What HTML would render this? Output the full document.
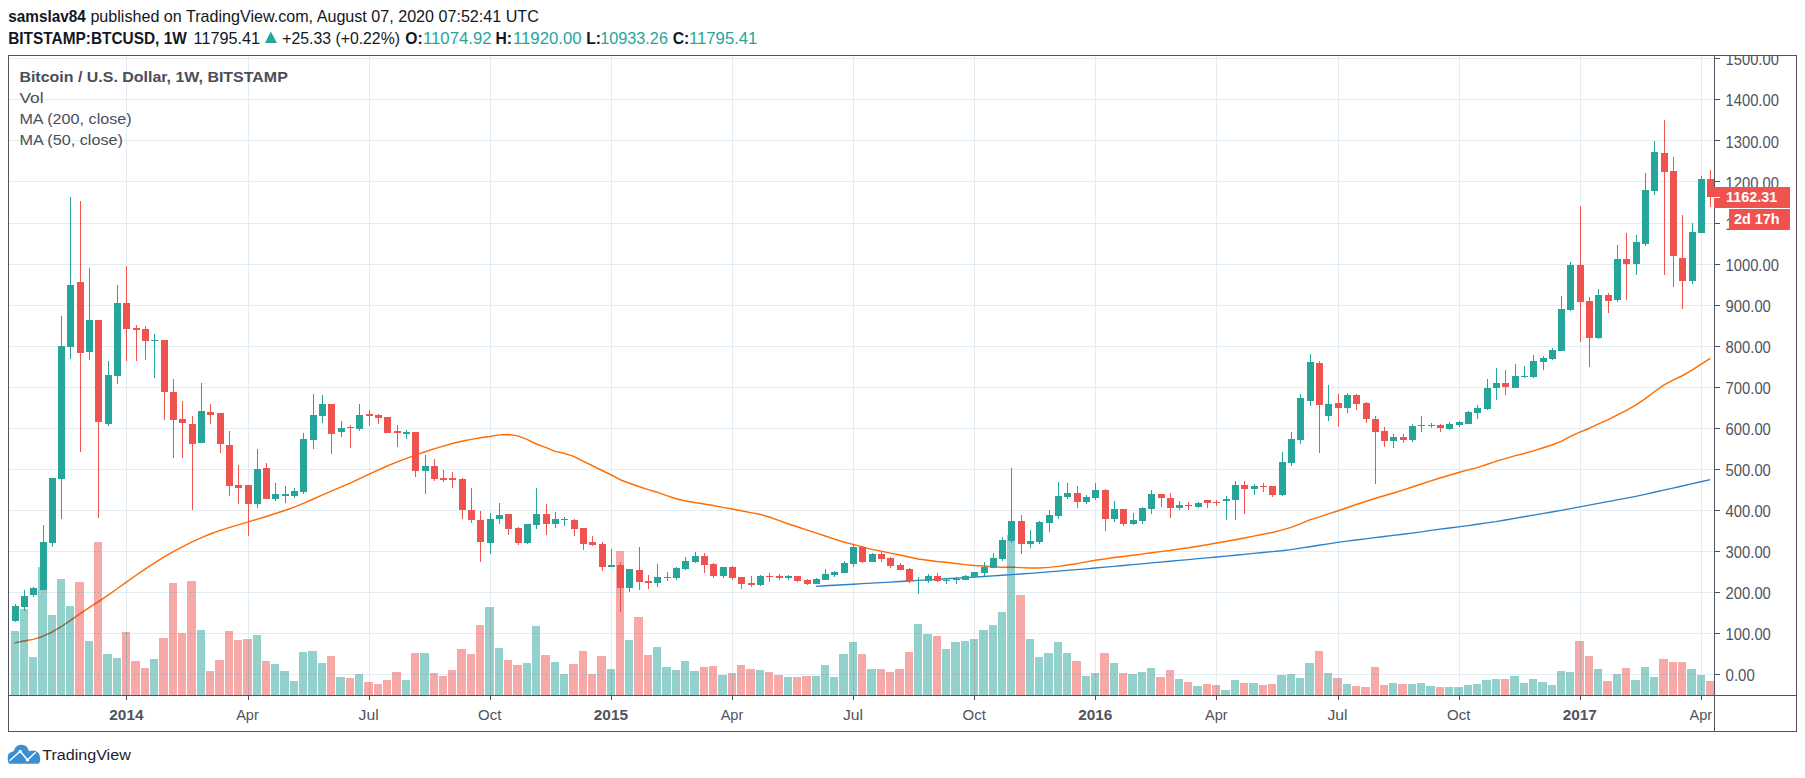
<!DOCTYPE html>
<html><head><meta charset="utf-8"><title>BTCUSD</title>
<style>
html,body{margin:0;padding:0;background:#fff;}
body{width:1805px;height:778px;overflow:hidden;position:relative;font-family:"Liberation Sans",sans-serif;}
svg{position:absolute;left:0;top:0;}
svg text{font-family:"Liberation Sans",sans-serif;}
</style></head><body>
<svg width="1805" height="778" viewBox="0 0 1805 778">

<path d="M9 674.5H1714M9 633.5H1714M9 592.5H1714M9 551.5H1714M9 510.5H1714M9 469.5H1714M9 428.5H1714M9 387.5H1714M9 346.5H1714M9 305.5H1714M9 264.5H1714M9 223.5H1714M9 181.5H1714M9 140.5H1714M9 99.5H1714M9 58.5H1714M126.5 56V695M248.5 56V695M369.5 56V695M490.5 56V695M611.5 56V695M732.5 56V695M853.5 56V695M974.5 56V695M1095.5 56V695M1216.5 56V695M1338.5 56V695M1459.5 56V695M1580.5 56V695M1701.5 56V695" stroke="#e2ecf2" stroke-width="1" fill="none" shape-rendering="crispEdges"/>
<path d="M11 631H19V695H11ZM20 609H28V695H20ZM29 657H37V695H29ZM38 567H47V695H38ZM48 615H56V695H48ZM57 579H65V695H57ZM66 606H74V695H66ZM85 641H93V695H85ZM103 654H112V695H103ZM113 658H121V695H113ZM150 659H158V695H150ZM197 630H205V695H197ZM253 635H261V695H253ZM271 664H279V695H271ZM280 671H289V695H280ZM290 681H298V695H290ZM299 652H307V695H299ZM308 651H317V695H308ZM318 663H326V695H318ZM336 677H345V695H336ZM355 674H363V695H355ZM402 680H410V695H402ZM420 653H429V695H420ZM485 607H494V695H485ZM495 648H503V695H495ZM523 663H531V695H523ZM532 626H540V695H532ZM551 662H559V695H551ZM560 674H568V695H560ZM607 669H615V695H607ZM625 640H633V695H625ZM653 647H661V695H653ZM662 667H671V695H662ZM672 670H680V695H672ZM681 661H689V695H681ZM690 671H699V695H690ZM718 675H727V695H718ZM756 670H764V695H756ZM784 677H792V695H784ZM812 676H820V695H812ZM821 665H829V695H821ZM830 677H838V695H830ZM839 654H848V695H839ZM849 642H857V695H849ZM867 669H876V695H867ZM914 624H922V695H914ZM923 634H932V695H923ZM942 649H950V695H942ZM951 642H960V695H951ZM961 641H969V695H961ZM970 639H978V695H970ZM979 630H988V695H979ZM989 625H997V695H989ZM998 612H1006V695H998ZM1007 535H1015V695H1007ZM1026 639H1034V695H1026ZM1035 657H1043V695H1035ZM1044 653H1053V695H1044ZM1054 642H1062V695H1054ZM1063 653H1071V695H1063ZM1082 676H1090V695H1082ZM1091 673H1099V695H1091ZM1110 663H1118V695H1110ZM1128 674H1137V695H1128ZM1138 672H1146V695H1138ZM1147 668H1155V695H1147ZM1175 679H1183V695H1175ZM1193 686H1202V695H1193ZM1221 690H1230V695H1221ZM1231 680H1239V695H1231ZM1249 683H1258V695H1249ZM1277 675H1286V695H1277ZM1287 674H1295V695H1287ZM1296 678H1304V695H1296ZM1305 663H1314V695H1305ZM1324 673H1332V695H1324ZM1343 684H1351V695H1343ZM1389 683H1397V695H1389ZM1408 684H1416V695H1408ZM1417 683H1425V695H1417ZM1426 686H1435V695H1426ZM1445 687H1453V695H1445ZM1454 687H1463V695H1454ZM1464 685H1472V695H1464ZM1473 684H1481V695H1473ZM1482 680H1491V695H1482ZM1492 679H1500V695H1492ZM1510 676H1519V695H1510ZM1520 683H1528V695H1520ZM1529 679H1537V695H1529ZM1538 682H1547V695H1538ZM1548 685H1556V695H1548ZM1557 671H1565V695H1557ZM1566 672H1574V695H1566ZM1594 669H1602V695H1594ZM1613 674H1621V695H1613ZM1631 680H1640V695H1631ZM1641 667H1649V695H1641ZM1650 677H1658V695H1650ZM1687 669H1696V695H1687ZM1697 675H1705V695H1697Z" fill="#93d2cc" shape-rendering="crispEdges"/>
<path d="M75 582H84V695H75ZM94 542H102V695H94ZM122 632H130V695H122ZM131 661H140V695H131ZM141 668H149V695H141ZM159 638H168V695H159ZM169 583H177V695H169ZM178 633H186V695H178ZM187 581H196V695H187ZM206 671H214V695H206ZM215 660H224V695H215ZM225 631H233V695H225ZM234 640H242V695H234ZM243 639H252V695H243ZM262 661H270V695H262ZM327 656H335V695H327ZM346 678H354V695H346ZM364 682H373V695H364ZM374 684H382V695H374ZM383 680H391V695H383ZM392 672H401V695H392ZM411 653H419V695H411ZM430 673H438V695H430ZM439 676H447V695H439ZM448 670H456V695H448ZM457 649H466V695H457ZM467 654H475V695H467ZM476 625H484V695H476ZM504 660H512V695H504ZM513 665H522V695H513ZM541 655H550V695H541ZM569 664H578V695H569ZM579 651H587V695H579ZM588 674H596V695H588ZM597 656H606V695H597ZM616 551H624V695H616ZM634 617H643V695H634ZM644 655H652V695H644ZM700 667H708V695H700ZM709 666H717V695H709ZM728 673H736V695H728ZM737 665H745V695H737ZM746 669H755V695H746ZM765 672H773V695H765ZM774 675H783V695H774ZM793 677H801V695H793ZM802 676H811V695H802ZM858 654H866V695H858ZM877 669H885V695H877ZM886 672H894V695H886ZM895 669H904V695H895ZM905 652H913V695H905ZM933 636H941V695H933ZM1016 595H1025V695H1016ZM1072 661H1081V695H1072ZM1100 653H1109V695H1100ZM1119 673H1127V695H1119ZM1156 677H1165V695H1156ZM1166 670H1174V695H1166ZM1184 682H1192V695H1184ZM1203 684H1211V695H1203ZM1212 685H1220V695H1212ZM1240 683H1248V695H1240ZM1259 685H1267V695H1259ZM1268 684H1276V695H1268ZM1315 651H1323V695H1315ZM1333 678H1342V695H1333ZM1352 686H1360V695H1352ZM1361 687H1370V695H1361ZM1371 667H1379V695H1371ZM1380 685H1388V695H1380ZM1398 684H1407V695H1398ZM1436 687H1444V695H1436ZM1501 679H1509V695H1501ZM1575 641H1584V695H1575ZM1585 656H1593V695H1585ZM1603 681H1612V695H1603ZM1622 668H1630V695H1622ZM1659 659H1668V695H1659ZM1669 662H1677V695H1669ZM1678 662H1686V695H1678ZM1706 681H1714V695H1706Z" fill="#f7a9a8" shape-rendering="crispEdges"/>
<defs><clipPath id="cg"><path d="M11 631H19V695H11ZM20 609H28V695H20ZM29 657H37V695H29ZM38 567H47V695H38ZM48 615H56V695H48ZM57 579H65V695H57ZM66 606H74V695H66ZM85 641H93V695H85ZM103 654H112V695H103ZM113 658H121V695H113ZM150 659H158V695H150ZM197 630H205V695H197ZM253 635H261V695H253ZM271 664H279V695H271ZM280 671H289V695H280ZM290 681H298V695H290ZM299 652H307V695H299ZM308 651H317V695H308ZM318 663H326V695H318ZM336 677H345V695H336ZM355 674H363V695H355ZM402 680H410V695H402ZM420 653H429V695H420ZM485 607H494V695H485ZM495 648H503V695H495ZM523 663H531V695H523ZM532 626H540V695H532ZM551 662H559V695H551ZM560 674H568V695H560ZM607 669H615V695H607ZM625 640H633V695H625ZM653 647H661V695H653ZM662 667H671V695H662ZM672 670H680V695H672ZM681 661H689V695H681ZM690 671H699V695H690ZM718 675H727V695H718ZM756 670H764V695H756ZM784 677H792V695H784ZM812 676H820V695H812ZM821 665H829V695H821ZM830 677H838V695H830ZM839 654H848V695H839ZM849 642H857V695H849ZM867 669H876V695H867ZM914 624H922V695H914ZM923 634H932V695H923ZM942 649H950V695H942ZM951 642H960V695H951ZM961 641H969V695H961ZM970 639H978V695H970ZM979 630H988V695H979ZM989 625H997V695H989ZM998 612H1006V695H998ZM1007 535H1015V695H1007ZM1026 639H1034V695H1026ZM1035 657H1043V695H1035ZM1044 653H1053V695H1044ZM1054 642H1062V695H1054ZM1063 653H1071V695H1063ZM1082 676H1090V695H1082ZM1091 673H1099V695H1091ZM1110 663H1118V695H1110ZM1128 674H1137V695H1128ZM1138 672H1146V695H1138ZM1147 668H1155V695H1147ZM1175 679H1183V695H1175ZM1193 686H1202V695H1193ZM1221 690H1230V695H1221ZM1231 680H1239V695H1231ZM1249 683H1258V695H1249ZM1277 675H1286V695H1277ZM1287 674H1295V695H1287ZM1296 678H1304V695H1296ZM1305 663H1314V695H1305ZM1324 673H1332V695H1324ZM1343 684H1351V695H1343ZM1389 683H1397V695H1389ZM1408 684H1416V695H1408ZM1417 683H1425V695H1417ZM1426 686H1435V695H1426ZM1445 687H1453V695H1445ZM1454 687H1463V695H1454ZM1464 685H1472V695H1464ZM1473 684H1481V695H1473ZM1482 680H1491V695H1482ZM1492 679H1500V695H1492ZM1510 676H1519V695H1510ZM1520 683H1528V695H1520ZM1529 679H1537V695H1529ZM1538 682H1547V695H1538ZM1548 685H1556V695H1548ZM1557 671H1565V695H1557ZM1566 672H1574V695H1566ZM1594 669H1602V695H1594ZM1613 674H1621V695H1613ZM1631 680H1640V695H1631ZM1641 667H1649V695H1641ZM1650 677H1658V695H1650ZM1687 669H1696V695H1687ZM1697 675H1705V695H1697Z"/></clipPath><clipPath id="cr"><path d="M75 582H84V695H75ZM94 542H102V695H94ZM122 632H130V695H122ZM131 661H140V695H131ZM141 668H149V695H141ZM159 638H168V695H159ZM169 583H177V695H169ZM178 633H186V695H178ZM187 581H196V695H187ZM206 671H214V695H206ZM215 660H224V695H215ZM225 631H233V695H225ZM234 640H242V695H234ZM243 639H252V695H243ZM262 661H270V695H262ZM327 656H335V695H327ZM346 678H354V695H346ZM364 682H373V695H364ZM374 684H382V695H374ZM383 680H391V695H383ZM392 672H401V695H392ZM411 653H419V695H411ZM430 673H438V695H430ZM439 676H447V695H439ZM448 670H456V695H448ZM457 649H466V695H457ZM467 654H475V695H467ZM476 625H484V695H476ZM504 660H512V695H504ZM513 665H522V695H513ZM541 655H550V695H541ZM569 664H578V695H569ZM579 651H587V695H579ZM588 674H596V695H588ZM597 656H606V695H597ZM616 551H624V695H616ZM634 617H643V695H634ZM644 655H652V695H644ZM700 667H708V695H700ZM709 666H717V695H709ZM728 673H736V695H728ZM737 665H745V695H737ZM746 669H755V695H746ZM765 672H773V695H765ZM774 675H783V695H774ZM793 677H801V695H793ZM802 676H811V695H802ZM858 654H866V695H858ZM877 669H885V695H877ZM886 672H894V695H886ZM895 669H904V695H895ZM905 652H913V695H905ZM933 636H941V695H933ZM1016 595H1025V695H1016ZM1072 661H1081V695H1072ZM1100 653H1109V695H1100ZM1119 673H1127V695H1119ZM1156 677H1165V695H1156ZM1166 670H1174V695H1166ZM1184 682H1192V695H1184ZM1203 684H1211V695H1203ZM1212 685H1220V695H1212ZM1240 683H1248V695H1240ZM1259 685H1267V695H1259ZM1268 684H1276V695H1268ZM1315 651H1323V695H1315ZM1333 678H1342V695H1333ZM1352 686H1360V695H1352ZM1361 687H1370V695H1361ZM1371 667H1379V695H1371ZM1380 685H1388V695H1380ZM1398 684H1407V695H1398ZM1436 687H1444V695H1436ZM1501 679H1509V695H1501ZM1575 641H1584V695H1575ZM1585 656H1593V695H1585ZM1603 681H1612V695H1603ZM1622 668H1630V695H1622ZM1659 659H1668V695H1659ZM1669 662H1677V695H1669ZM1678 662H1686V695H1678ZM1706 681H1714V695H1706Z"/></clipPath><clipPath id="call"><path d="M11 631H19V695H11ZM20 609H28V695H20ZM29 657H37V695H29ZM38 567H47V695H38ZM48 615H56V695H48ZM57 579H65V695H57ZM66 606H74V695H66ZM85 641H93V695H85ZM103 654H112V695H103ZM113 658H121V695H113ZM150 659H158V695H150ZM197 630H205V695H197ZM253 635H261V695H253ZM271 664H279V695H271ZM280 671H289V695H280ZM290 681H298V695H290ZM299 652H307V695H299ZM308 651H317V695H308ZM318 663H326V695H318ZM336 677H345V695H336ZM355 674H363V695H355ZM402 680H410V695H402ZM420 653H429V695H420ZM485 607H494V695H485ZM495 648H503V695H495ZM523 663H531V695H523ZM532 626H540V695H532ZM551 662H559V695H551ZM560 674H568V695H560ZM607 669H615V695H607ZM625 640H633V695H625ZM653 647H661V695H653ZM662 667H671V695H662ZM672 670H680V695H672ZM681 661H689V695H681ZM690 671H699V695H690ZM718 675H727V695H718ZM756 670H764V695H756ZM784 677H792V695H784ZM812 676H820V695H812ZM821 665H829V695H821ZM830 677H838V695H830ZM839 654H848V695H839ZM849 642H857V695H849ZM867 669H876V695H867ZM914 624H922V695H914ZM923 634H932V695H923ZM942 649H950V695H942ZM951 642H960V695H951ZM961 641H969V695H961ZM970 639H978V695H970ZM979 630H988V695H979ZM989 625H997V695H989ZM998 612H1006V695H998ZM1007 535H1015V695H1007ZM1026 639H1034V695H1026ZM1035 657H1043V695H1035ZM1044 653H1053V695H1044ZM1054 642H1062V695H1054ZM1063 653H1071V695H1063ZM1082 676H1090V695H1082ZM1091 673H1099V695H1091ZM1110 663H1118V695H1110ZM1128 674H1137V695H1128ZM1138 672H1146V695H1138ZM1147 668H1155V695H1147ZM1175 679H1183V695H1175ZM1193 686H1202V695H1193ZM1221 690H1230V695H1221ZM1231 680H1239V695H1231ZM1249 683H1258V695H1249ZM1277 675H1286V695H1277ZM1287 674H1295V695H1287ZM1296 678H1304V695H1296ZM1305 663H1314V695H1305ZM1324 673H1332V695H1324ZM1343 684H1351V695H1343ZM1389 683H1397V695H1389ZM1408 684H1416V695H1408ZM1417 683H1425V695H1417ZM1426 686H1435V695H1426ZM1445 687H1453V695H1445ZM1454 687H1463V695H1454ZM1464 685H1472V695H1464ZM1473 684H1481V695H1473ZM1482 680H1491V695H1482ZM1492 679H1500V695H1492ZM1510 676H1519V695H1510ZM1520 683H1528V695H1520ZM1529 679H1537V695H1529ZM1538 682H1547V695H1538ZM1548 685H1556V695H1548ZM1557 671H1565V695H1557ZM1566 672H1574V695H1566ZM1594 669H1602V695H1594ZM1613 674H1621V695H1613ZM1631 680H1640V695H1631ZM1641 667H1649V695H1641ZM1650 677H1658V695H1650ZM1687 669H1696V695H1687ZM1697 675H1705V695H1697ZM75 582H84V695H75ZM94 542H102V695H94ZM122 632H130V695H122ZM131 661H140V695H131ZM141 668H149V695H141ZM159 638H168V695H159ZM169 583H177V695H169ZM178 633H186V695H178ZM187 581H196V695H187ZM206 671H214V695H206ZM215 660H224V695H215ZM225 631H233V695H225ZM234 640H242V695H234ZM243 639H252V695H243ZM262 661H270V695H262ZM327 656H335V695H327ZM346 678H354V695H346ZM364 682H373V695H364ZM374 684H382V695H374ZM383 680H391V695H383ZM392 672H401V695H392ZM411 653H419V695H411ZM430 673H438V695H430ZM439 676H447V695H439ZM448 670H456V695H448ZM457 649H466V695H457ZM467 654H475V695H467ZM476 625H484V695H476ZM504 660H512V695H504ZM513 665H522V695H513ZM541 655H550V695H541ZM569 664H578V695H569ZM579 651H587V695H579ZM588 674H596V695H588ZM597 656H606V695H597ZM616 551H624V695H616ZM634 617H643V695H634ZM644 655H652V695H644ZM700 667H708V695H700ZM709 666H717V695H709ZM728 673H736V695H728ZM737 665H745V695H737ZM746 669H755V695H746ZM765 672H773V695H765ZM774 675H783V695H774ZM793 677H801V695H793ZM802 676H811V695H802ZM858 654H866V695H858ZM877 669H885V695H877ZM886 672H894V695H886ZM895 669H904V695H895ZM905 652H913V695H905ZM933 636H941V695H933ZM1016 595H1025V695H1016ZM1072 661H1081V695H1072ZM1100 653H1109V695H1100ZM1119 673H1127V695H1119ZM1156 677H1165V695H1156ZM1166 670H1174V695H1166ZM1184 682H1192V695H1184ZM1203 684H1211V695H1203ZM1212 685H1220V695H1212ZM1240 683H1248V695H1240ZM1259 685H1267V695H1259ZM1268 684H1276V695H1268ZM1315 651H1323V695H1315ZM1333 678H1342V695H1333ZM1352 686H1360V695H1352ZM1361 687H1370V695H1361ZM1371 667H1379V695H1371ZM1380 685H1388V695H1380ZM1398 684H1407V695H1398ZM1436 687H1444V695H1436ZM1501 679H1509V695H1501ZM1575 641H1584V695H1575ZM1585 656H1593V695H1585ZM1603 681H1612V695H1603ZM1622 668H1630V695H1622ZM1659 659H1668V695H1659ZM1669 662H1677V695H1669ZM1678 662H1686V695H1678ZM1706 681H1714V695H1706Z"/></clipPath></defs>
<path d="M10 674.5H1714M10 633.5H1714M10 592.5H1714M10 551.5H1714M10 510.5H1714M10 469.5H1714M10 428.5H1714M10 387.5H1714M10 346.5H1714M10 305.5H1714M10 264.5H1714M10 223.5H1714M10 181.5H1714M10 140.5H1714M10 99.5H1714M10 58.5H1714" stroke="#8d9196" stroke-width="1" stroke-dasharray="1 3" fill="none" clip-path="url(#call)" shape-rendering="crispEdges" opacity="0.8"/>
<path d="M126.5 56V695M248.5 56V695M369.5 56V695M490.5 56V695M611.5 56V695M732.5 56V695M853.5 56V695M974.5 56V695M1095.5 56V695M1216.5 56V695M1338.5 56V695M1459.5 56V695M1580.5 56V695M1701.5 56V695" stroke="#8d9196" stroke-width="1" stroke-dasharray="1 1" fill="none" clip-path="url(#call)" shape-rendering="crispEdges" opacity="0.8"/>
<path d="M14.58 642.90 L23.90 641.02 L33.22 639.36 L42.53 636.44 L51.85 632.23 L61.17 626.73 L70.48 620.37 L79.80 613.85 L89.12 607.61 L98.43 601.56 L107.75 595.30 L117.07 588.74 L126.38 582.06 L135.70 575.52 L145.02 569.17 L154.33 563.03 L163.65 557.21 L172.97 551.78 L182.28 546.80 L191.60 542.18 L200.92 537.91 L210.23 534.03 L219.55 530.61 L228.87 527.59 L238.19 524.82 L247.50 522.11 L256.82 519.32 L266.14 516.46 L275.45 513.53 L284.77 510.46 L294.09 507.08 L303.40 503.31 L312.72 499.26 L322.04 495.15 L331.35 491.11 L340.67 487.16 L349.99 483.10 L359.30 478.84 L368.62 474.42 L377.94 470.08 L387.25 466.00 L396.57 462.19 L405.89 458.60 L415.20 455.18 L424.52 451.95 L433.84 448.92 L443.15 446.08 L452.47 443.50 L461.79 441.27 L471.11 439.39 L480.42 437.79 L489.74 436.44 L499.06 434.85 L508.37 434.58 L517.69 435.88 L527.01 439.44 L536.32 444.02 L545.64 447.43 L554.96 451.41 L564.27 453.33 L573.59 456.40 L582.91 461.21 L592.22 465.53 L601.54 470.26 L610.86 474.75 L620.17 479.70 L629.49 483.23 L638.81 486.46 L648.12 489.65 L657.44 492.31 L666.76 495.63 L676.07 498.70 L685.39 501.05 L694.71 502.45 L704.03 504.00 L713.34 505.44 L722.66 507.40 L731.98 508.98 L741.29 510.78 L750.61 512.60 L759.93 514.29 L769.24 517.05 L778.56 520.31 L787.88 523.75 L797.19 526.70 L806.51 529.82 L815.83 532.83 L825.14 536.01 L834.46 539.14 L843.78 542.05 L853.09 544.34 L862.41 546.92 L871.73 549.36 L881.04 551.12 L890.36 553.11 L899.68 554.92 L908.99 556.94 L918.31 558.94 L927.63 560.26 L936.95 561.46 L946.26 562.22 L955.58 563.42 L964.90 564.64 L974.21 565.50 L983.53 565.99 L992.85 566.66 L1002.16 567.18 L1011.48 567.12 L1020.80 567.62 L1030.11 568.07 L1039.43 567.93 L1048.75 567.36 L1058.06 566.39 L1067.38 564.92 L1076.70 563.66 L1086.01 561.85 L1095.33 560.27 L1104.65 559.01 L1113.96 557.53 L1123.28 556.47 L1132.60 555.33 L1141.91 554.13 L1151.23 552.79 L1160.55 551.61 L1169.87 550.47 L1179.18 549.06 L1188.50 547.83 L1197.82 546.34 L1207.13 544.72 L1216.45 543.08 L1225.77 541.55 L1235.08 539.70 L1244.40 537.92 L1253.72 536.12 L1263.03 534.25 L1272.35 532.47 L1281.67 530.12 L1290.98 527.42 L1300.30 523.94 L1309.62 519.92 L1318.93 517.07 L1328.25 513.92 L1337.57 511.01 L1346.88 507.73 L1356.20 504.50 L1365.52 501.48 L1374.83 498.50 L1384.15 495.73 L1393.47 492.94 L1402.79 490.12 L1412.10 487.04 L1421.42 483.96 L1430.74 480.93 L1440.05 478.06 L1449.37 475.19 L1458.69 472.47 L1468.00 469.90 L1477.32 467.64 L1486.64 464.53 L1495.95 461.37 L1505.27 458.67 L1514.59 455.89 L1523.90 453.48 L1533.22 450.84 L1542.54 447.97 L1551.85 445.03 L1561.17 441.40 L1570.49 436.33 L1579.80 432.18 L1589.12 428.46 L1598.44 423.95 L1607.75 419.81 L1617.07 415.10 L1626.39 410.43 L1635.71 405.12 L1645.02 398.82 L1654.34 391.75 L1663.66 385.12 L1672.97 380.19 L1682.29 375.75 L1691.61 370.41 L1700.92 364.29 L1710.24 358.46" stroke="#ff6d00" stroke-width="1.45" fill="none" stroke-linejoin="round"/>
<path d="M14.58 642.90 L23.90 641.02 L33.22 639.36 L42.53 636.44 L51.85 632.23 L61.17 626.73 L70.48 620.37 L79.80 613.85 L89.12 607.61 L98.43 601.56 L107.75 595.30 L117.07 588.74 L126.38 582.06 L135.70 575.52 L145.02 569.17 L154.33 563.03 L163.65 557.21 L172.97 551.78 L182.28 546.80 L191.60 542.18 L200.92 537.91 L210.23 534.03 L219.55 530.61 L228.87 527.59 L238.19 524.82 L247.50 522.11 L256.82 519.32 L266.14 516.46 L275.45 513.53 L284.77 510.46 L294.09 507.08 L303.40 503.31 L312.72 499.26 L322.04 495.15 L331.35 491.11 L340.67 487.16 L349.99 483.10 L359.30 478.84 L368.62 474.42 L377.94 470.08 L387.25 466.00 L396.57 462.19 L405.89 458.60 L415.20 455.18 L424.52 451.95 L433.84 448.92 L443.15 446.08 L452.47 443.50 L461.79 441.27 L471.11 439.39 L480.42 437.79 L489.74 436.44 L499.06 434.85 L508.37 434.58 L517.69 435.88 L527.01 439.44 L536.32 444.02 L545.64 447.43 L554.96 451.41 L564.27 453.33 L573.59 456.40 L582.91 461.21 L592.22 465.53 L601.54 470.26 L610.86 474.75 L620.17 479.70 L629.49 483.23 L638.81 486.46 L648.12 489.65 L657.44 492.31 L666.76 495.63 L676.07 498.70 L685.39 501.05 L694.71 502.45 L704.03 504.00 L713.34 505.44 L722.66 507.40 L731.98 508.98 L741.29 510.78 L750.61 512.60 L759.93 514.29 L769.24 517.05 L778.56 520.31 L787.88 523.75 L797.19 526.70 L806.51 529.82 L815.83 532.83 L825.14 536.01 L834.46 539.14 L843.78 542.05 L853.09 544.34 L862.41 546.92 L871.73 549.36 L881.04 551.12 L890.36 553.11 L899.68 554.92 L908.99 556.94 L918.31 558.94 L927.63 560.26 L936.95 561.46 L946.26 562.22 L955.58 563.42 L964.90 564.64 L974.21 565.50 L983.53 565.99 L992.85 566.66 L1002.16 567.18 L1011.48 567.12 L1020.80 567.62 L1030.11 568.07 L1039.43 567.93 L1048.75 567.36 L1058.06 566.39 L1067.38 564.92 L1076.70 563.66 L1086.01 561.85 L1095.33 560.27 L1104.65 559.01 L1113.96 557.53 L1123.28 556.47 L1132.60 555.33 L1141.91 554.13 L1151.23 552.79 L1160.55 551.61 L1169.87 550.47 L1179.18 549.06 L1188.50 547.83 L1197.82 546.34 L1207.13 544.72 L1216.45 543.08 L1225.77 541.55 L1235.08 539.70 L1244.40 537.92 L1253.72 536.12 L1263.03 534.25 L1272.35 532.47 L1281.67 530.12 L1290.98 527.42 L1300.30 523.94 L1309.62 519.92 L1318.93 517.07 L1328.25 513.92 L1337.57 511.01 L1346.88 507.73 L1356.20 504.50 L1365.52 501.48 L1374.83 498.50 L1384.15 495.73 L1393.47 492.94 L1402.79 490.12 L1412.10 487.04 L1421.42 483.96 L1430.74 480.93 L1440.05 478.06 L1449.37 475.19 L1458.69 472.47 L1468.00 469.90 L1477.32 467.64 L1486.64 464.53 L1495.95 461.37 L1505.27 458.67 L1514.59 455.89 L1523.90 453.48 L1533.22 450.84 L1542.54 447.97 L1551.85 445.03 L1561.17 441.40 L1570.49 436.33 L1579.80 432.18 L1589.12 428.46 L1598.44 423.95 L1607.75 419.81 L1617.07 415.10 L1626.39 410.43 L1635.71 405.12 L1645.02 398.82 L1654.34 391.75 L1663.66 385.12 L1672.97 380.19 L1682.29 375.75 L1691.61 370.41 L1700.92 364.29 L1710.24 358.46" stroke="#6f7478" stroke-width="1.45" fill="none" stroke-linejoin="round" clip-path="url(#cg)"/>
<path d="M14.58 642.90 L23.90 641.02 L33.22 639.36 L42.53 636.44 L51.85 632.23 L61.17 626.73 L70.48 620.37 L79.80 613.85 L89.12 607.61 L98.43 601.56 L107.75 595.30 L117.07 588.74 L126.38 582.06 L135.70 575.52 L145.02 569.17 L154.33 563.03 L163.65 557.21 L172.97 551.78 L182.28 546.80 L191.60 542.18 L200.92 537.91 L210.23 534.03 L219.55 530.61 L228.87 527.59 L238.19 524.82 L247.50 522.11 L256.82 519.32 L266.14 516.46 L275.45 513.53 L284.77 510.46 L294.09 507.08 L303.40 503.31 L312.72 499.26 L322.04 495.15 L331.35 491.11 L340.67 487.16 L349.99 483.10 L359.30 478.84 L368.62 474.42 L377.94 470.08 L387.25 466.00 L396.57 462.19 L405.89 458.60 L415.20 455.18 L424.52 451.95 L433.84 448.92 L443.15 446.08 L452.47 443.50 L461.79 441.27 L471.11 439.39 L480.42 437.79 L489.74 436.44 L499.06 434.85 L508.37 434.58 L517.69 435.88 L527.01 439.44 L536.32 444.02 L545.64 447.43 L554.96 451.41 L564.27 453.33 L573.59 456.40 L582.91 461.21 L592.22 465.53 L601.54 470.26 L610.86 474.75 L620.17 479.70 L629.49 483.23 L638.81 486.46 L648.12 489.65 L657.44 492.31 L666.76 495.63 L676.07 498.70 L685.39 501.05 L694.71 502.45 L704.03 504.00 L713.34 505.44 L722.66 507.40 L731.98 508.98 L741.29 510.78 L750.61 512.60 L759.93 514.29 L769.24 517.05 L778.56 520.31 L787.88 523.75 L797.19 526.70 L806.51 529.82 L815.83 532.83 L825.14 536.01 L834.46 539.14 L843.78 542.05 L853.09 544.34 L862.41 546.92 L871.73 549.36 L881.04 551.12 L890.36 553.11 L899.68 554.92 L908.99 556.94 L918.31 558.94 L927.63 560.26 L936.95 561.46 L946.26 562.22 L955.58 563.42 L964.90 564.64 L974.21 565.50 L983.53 565.99 L992.85 566.66 L1002.16 567.18 L1011.48 567.12 L1020.80 567.62 L1030.11 568.07 L1039.43 567.93 L1048.75 567.36 L1058.06 566.39 L1067.38 564.92 L1076.70 563.66 L1086.01 561.85 L1095.33 560.27 L1104.65 559.01 L1113.96 557.53 L1123.28 556.47 L1132.60 555.33 L1141.91 554.13 L1151.23 552.79 L1160.55 551.61 L1169.87 550.47 L1179.18 549.06 L1188.50 547.83 L1197.82 546.34 L1207.13 544.72 L1216.45 543.08 L1225.77 541.55 L1235.08 539.70 L1244.40 537.92 L1253.72 536.12 L1263.03 534.25 L1272.35 532.47 L1281.67 530.12 L1290.98 527.42 L1300.30 523.94 L1309.62 519.92 L1318.93 517.07 L1328.25 513.92 L1337.57 511.01 L1346.88 507.73 L1356.20 504.50 L1365.52 501.48 L1374.83 498.50 L1384.15 495.73 L1393.47 492.94 L1402.79 490.12 L1412.10 487.04 L1421.42 483.96 L1430.74 480.93 L1440.05 478.06 L1449.37 475.19 L1458.69 472.47 L1468.00 469.90 L1477.32 467.64 L1486.64 464.53 L1495.95 461.37 L1505.27 458.67 L1514.59 455.89 L1523.90 453.48 L1533.22 450.84 L1542.54 447.97 L1551.85 445.03 L1561.17 441.40 L1570.49 436.33 L1579.80 432.18 L1589.12 428.46 L1598.44 423.95 L1607.75 419.81 L1617.07 415.10 L1626.39 410.43 L1635.71 405.12 L1645.02 398.82 L1654.34 391.75 L1663.66 385.12 L1672.97 380.19 L1682.29 375.75 L1691.61 370.41 L1700.92 364.29 L1710.24 358.46" stroke="#f25a2c" stroke-width="1.45" fill="none" stroke-linejoin="round" clip-path="url(#cr)"/>
<path d="M815.83 586.30 L825.14 585.78 L834.46 585.26 L843.78 584.73 L853.09 584.21 L862.41 583.68 L871.73 583.15 L881.04 582.61 L890.36 582.07 L899.68 581.52 L908.99 580.98 L918.31 580.44 L927.63 579.89 L936.95 579.33 L946.26 578.77 L955.58 578.21 L964.90 577.65 L974.21 577.09 L983.53 576.49 L992.85 575.88 L1002.16 575.26 L1011.48 574.65 L1020.80 574.04 L1030.11 573.43 L1039.43 572.66 L1048.75 571.89 L1058.06 571.12 L1067.38 570.35 L1076.70 569.58 L1086.01 568.80 L1095.33 567.98 L1104.65 567.17 L1113.96 566.34 L1123.28 565.50 L1132.60 564.65 L1141.91 563.80 L1151.23 562.95 L1160.55 562.10 L1169.87 561.25 L1179.18 560.40 L1188.50 559.55 L1197.82 558.70 L1207.13 557.85 L1216.45 557.00 L1225.77 556.10 L1235.08 555.21 L1244.40 554.31 L1253.72 553.42 L1263.03 552.53 L1272.35 551.63 L1281.67 550.74 L1290.98 549.63 L1300.30 548.17 L1309.62 546.72 L1318.93 545.26 L1328.25 543.81 L1337.57 542.36 L1346.88 541.11 L1356.20 539.96 L1365.52 538.82 L1374.83 537.67 L1384.15 536.52 L1393.47 535.37 L1402.79 534.22 L1412.10 533.07 L1421.42 531.86 L1430.74 530.31 L1440.05 529.16 L1449.37 528.00 L1458.69 526.85 L1468.00 525.55 L1477.32 524.22 L1486.64 522.90 L1495.95 521.58 L1505.27 520.04 L1514.59 518.33 L1523.90 516.72 L1533.22 515.20 L1542.54 513.65 L1551.85 511.98 L1561.17 510.31 L1570.49 508.63 L1579.80 506.88 L1589.12 505.13 L1598.44 503.37 L1607.75 501.62 L1617.07 499.86 L1626.39 498.11 L1635.71 496.36 L1645.02 494.29 L1654.34 492.22 L1663.66 490.15 L1672.97 488.08 L1682.29 486.00 L1691.61 483.89 L1700.92 481.76 L1710.24 479.62" stroke="#2c81c9" stroke-width="1.35" fill="none" stroke-linejoin="round"/>
<path d="M15 604h1V622h-1ZM12 606H19V621H12ZM24 590h1V611h-1ZM21 596H28V607H21ZM33 587h1V597h-1ZM30 588H37V595H30ZM43 525h1V590h-1ZM40 542H47V590H40ZM52 478h1V547h-1ZM49 478H56V543H49ZM61 316h1V519h-1ZM58 346H65V479H58ZM70 197h1V359h-1ZM67 285H74V347H67ZM89 268h1V360h-1ZM86 320H93V352H86ZM108 361h1V426h-1ZM105 375H112V424H105ZM117 285h1V384h-1ZM114 303H121V376H114ZM154 334h1V378h-1ZM151 340H158V341H151ZM201 383h1V443h-1ZM198 411H205V443H198ZM257 449h1V508h-1ZM254 469H261V504H254ZM275 483h1V501h-1ZM272 494H279V499H272ZM285 486h1V503h-1ZM282 494H289V496H282ZM294 488h1V498h-1ZM291 491H298V496H291ZM303 433h1V494h-1ZM300 439H307V492H300ZM313 394h1V449h-1ZM310 415H317V440H310ZM322 395h1V423h-1ZM319 404H326V416H319ZM341 421h1V437h-1ZM338 428H345V432H338ZM359 404h1V431h-1ZM356 415H363V429H356ZM406 430h1V439h-1ZM403 432H410V434H403ZM425 455h1V494h-1ZM422 466H429V471H422ZM490 513h1V554h-1ZM487 519H494V543H487ZM499 503h1V524h-1ZM496 515H503V519H496ZM527 524h1V544h-1ZM524 524H531V543H524ZM536 488h1V529h-1ZM533 514H540V525H533ZM555 512h1V528h-1ZM552 519H559V524H552ZM564 517h1V526h-1ZM561 519H568V520H561ZM611 549h1V567h-1ZM608 565H615V567H608ZM629 569h1V592h-1ZM626 569H633V588H626ZM657 564h1V587h-1ZM654 577H661V583H654ZM667 572h1V581h-1ZM664 577H671V578H664ZM676 567h1V580h-1ZM673 568H680V578H673ZM685 557h1V570h-1ZM682 561H689V569H682ZM695 552h1V563h-1ZM692 556H699V562H692ZM723 567h1V578h-1ZM720 567H727V576H720ZM760 575h1V586h-1ZM757 576H764V585H757ZM788 575h1V580h-1ZM785 576H792V578H785ZM816 578h1V584h-1ZM813 579H820V584H813ZM825 569h1V580h-1ZM822 574H829V580H822ZM834 571h1V577h-1ZM831 572H838V575H831ZM844 561h1V573h-1ZM841 563H848V573H841ZM853 544h1V567h-1ZM850 547H857V564H850ZM872 553h1V562h-1ZM869 554H876V562H869ZM918 577h1V594h-1ZM915 580H922V581H915ZM928 574h1V583h-1ZM925 576H932V581H925ZM946 578h1V584h-1ZM943 580H950V581H943ZM956 577h1V584h-1ZM953 579H960V580H953ZM965 575h1V580h-1ZM962 576H969V580H962ZM974 572h1V578h-1ZM971 572H978V577H971ZM984 562h1V576h-1ZM981 567H988V573H981ZM993 553h1V568h-1ZM990 558H997V568H990ZM1002 537h1V561h-1ZM999 540H1006V559H999ZM1011 468h1V543h-1ZM1008 521H1015V541H1008ZM1030 530h1V548h-1ZM1027 541H1034V544H1027ZM1039 521h1V544h-1ZM1036 522H1043V542H1036ZM1049 510h1V532h-1ZM1046 515H1053V523H1046ZM1058 482h1V519h-1ZM1055 496H1062V516H1055ZM1067 483h1V499h-1ZM1064 493H1071V497H1064ZM1086 495h1V504h-1ZM1083 497H1090V502H1083ZM1095 483h1V500h-1ZM1092 490H1099V498H1092ZM1114 501h1V522h-1ZM1111 509H1118V519H1111ZM1133 513h1V525h-1ZM1130 520H1137V524H1130ZM1142 507h1V524h-1ZM1139 508H1146V521H1139ZM1151 490h1V514h-1ZM1148 494H1155V509H1148ZM1179 501h1V510h-1ZM1176 505H1183V508H1176ZM1198 502h1V508h-1ZM1195 503H1202V507H1195ZM1226 496h1V520h-1ZM1223 499H1230V501H1223ZM1235 481h1V520h-1ZM1232 485H1239V500H1232ZM1254 484h1V495h-1ZM1251 486H1258V489H1251ZM1282 452h1V496h-1ZM1279 462H1286V495H1279ZM1291 432h1V466h-1ZM1288 439H1295V463H1288ZM1300 394h1V444h-1ZM1297 398H1304V440H1297ZM1310 354h1V406h-1ZM1307 362H1314V401H1307ZM1328 385h1V421h-1ZM1325 404H1332V416H1325ZM1347 393h1V413h-1ZM1344 395H1351V408H1344ZM1393 434h1V448h-1ZM1390 437H1397V441H1390ZM1412 424h1V442h-1ZM1409 426H1416V440H1409ZM1421 416h1V432h-1ZM1418 425H1425V426H1418ZM1431 423h1V428h-1ZM1428 425H1435V426H1428ZM1449 422h1V430h-1ZM1446 424H1453V429H1446ZM1459 421h1V427h-1ZM1456 422H1463V425H1456ZM1468 411h1V424h-1ZM1465 412H1472V424H1465ZM1477 405h1V419h-1ZM1474 408H1481V413H1474ZM1487 379h1V410h-1ZM1484 388H1491V409H1484ZM1496 368h1V400h-1ZM1493 383H1500V388H1493ZM1515 364h1V388h-1ZM1512 376H1519V388H1512ZM1524 366h1V378h-1ZM1521 376H1528V377H1521ZM1533 355h1V378h-1ZM1530 361H1537V377H1530ZM1543 356h1V370h-1ZM1540 358H1547V362H1540ZM1552 348h1V360h-1ZM1549 350H1556V359H1549ZM1561 296h1V351h-1ZM1558 309H1565V351H1558ZM1570 262h1V311h-1ZM1567 265H1574V310H1567ZM1598 289h1V339h-1ZM1595 295H1602V338H1595ZM1617 245h1V302h-1ZM1614 259H1621V300H1614ZM1636 235h1V275h-1ZM1633 242H1640V264H1633ZM1645 173h1V246h-1ZM1642 190H1649V244H1642ZM1654 141h1V195h-1ZM1651 152H1658V191H1651ZM1692 223h1V284h-1ZM1689 232H1696V281H1689ZM1701 176h1V233h-1ZM1698 179H1705V233H1698Z" fill="#26a69a" shape-rendering="crispEdges"/>
<path d="M80 201h1V452h-1ZM77 282H84V353H77ZM98 320h1V518h-1ZM95 320H102V422H95ZM126 266h1V361h-1ZM123 303H130V329H123ZM136 325h1V361h-1ZM133 328H140V330H133ZM145 326h1V360h-1ZM142 329H149V341H142ZM164 340h1V420h-1ZM161 340H168V392H161ZM173 379h1V458h-1ZM170 392H177V420H170ZM182 401h1V458h-1ZM179 419H186V423H179ZM192 416h1V510h-1ZM189 424H196V444H189ZM210 404h1V424h-1ZM207 412H214V415H207ZM220 413h1V453h-1ZM217 413H224V444H217ZM229 431h1V496h-1ZM226 445H233V486H226ZM238 465h1V504h-1ZM235 485H242V488H235ZM248 485h1V536h-1ZM245 485H252V504H245ZM266 463h1V499h-1ZM263 468H270V499H263ZM331 404h1V454h-1ZM328 404H335V434H328ZM350 425h1V448h-1ZM347 427H354V428H347ZM369 410h1V426h-1ZM366 414H373V416H366ZM378 414h1V424h-1ZM375 415H382V418H375ZM387 417h1V433h-1ZM384 417H391V433H384ZM397 425h1V447h-1ZM394 431H401V433H394ZM415 432h1V477h-1ZM412 432H419V471H412ZM434 459h1V481h-1ZM431 466H438V479H431ZM443 470h1V482h-1ZM440 478H447V480H440ZM452 472h1V488h-1ZM449 478H456V480H449ZM462 478h1V519h-1ZM459 479H466V510H459ZM471 488h1V523h-1ZM468 510H475V520H468ZM480 511h1V562h-1ZM477 520H484V542H477ZM508 514h1V535h-1ZM505 514H512V529H505ZM518 527h1V545h-1ZM515 528H522V543H515ZM546 504h1V535h-1ZM543 514H550V524H543ZM574 519h1V536h-1ZM571 520H578V529H571ZM583 528h1V550h-1ZM580 528H587V544H580ZM592 536h1V546h-1ZM589 542H596V545H589ZM602 542h1V571h-1ZM599 544H606V567H599ZM620 562h1V612h-1ZM617 565H624V588H617ZM639 547h1V590h-1ZM636 570H643V582H636ZM648 575h1V589h-1ZM645 581H652V583H645ZM704 553h1V573h-1ZM701 556H708V565H701ZM713 563h1V578h-1ZM710 564H717V576H710ZM732 566h1V580h-1ZM729 567H736V578H729ZM741 577h1V589h-1ZM738 577H745V584H738ZM751 576h1V587h-1ZM748 583H755V585H748ZM769 573h1V582h-1ZM766 576H773V577H766ZM779 574h1V580h-1ZM776 576H783V578H776ZM797 576h1V582h-1ZM794 576H801V581H794ZM807 579h1V585h-1ZM804 580H811V584H804ZM862 546h1V563h-1ZM859 547H866V562H859ZM881 552h1V562h-1ZM878 554H885V559H878ZM890 557h1V568h-1ZM887 558H894V566H887ZM900 563h1V570h-1ZM897 565H904V570H897ZM909 568h1V583h-1ZM906 569H913V581H906ZM937 573h1V582h-1ZM934 576H941V581H934ZM1021 515h1V554h-1ZM1018 521H1025V544H1018ZM1077 486h1V508h-1ZM1074 493H1081V502H1074ZM1105 489h1V531h-1ZM1102 490H1109V519H1102ZM1123 509h1V526h-1ZM1120 509H1127V524H1120ZM1161 494h1V507h-1ZM1158 494H1165V498H1158ZM1170 493h1V518h-1ZM1167 498H1174V508H1167ZM1188 502h1V510h-1ZM1185 505H1192V506H1185ZM1207 500h1V508h-1ZM1204 500H1211V503H1204ZM1216 500h1V506h-1ZM1213 502H1220V503H1213ZM1244 481h1V514h-1ZM1241 485H1248V489H1241ZM1263 483h1V492h-1ZM1260 486H1267V487H1260ZM1272 486h1V497h-1ZM1269 486H1276V495H1269ZM1319 361h1V453h-1ZM1316 363H1323V405H1316ZM1338 394h1V427h-1ZM1335 403H1342V408H1335ZM1356 394h1V410h-1ZM1353 395H1360V404H1353ZM1366 402h1V423h-1ZM1363 403H1370V419H1363ZM1375 416h1V484h-1ZM1372 419H1379V432H1372ZM1384 427h1V447h-1ZM1381 431H1388V441H1381ZM1403 434h1V443h-1ZM1400 437H1407V440H1400ZM1440 424h1V432h-1ZM1437 425H1444V428H1437ZM1505 370h1V395h-1ZM1502 383H1509V387H1502ZM1580 206h1V342h-1ZM1577 265H1584V302H1577ZM1589 297h1V367h-1ZM1586 301H1593V338H1586ZM1608 293h1V313h-1ZM1605 295H1612V301H1605ZM1626 233h1V300h-1ZM1623 259H1630V264H1623ZM1664 120h1V275h-1ZM1661 153H1668V172H1661ZM1673 157h1V287h-1ZM1670 171H1677V256H1670ZM1682 215h1V309h-1ZM1679 258H1686V281H1679ZM1710 170h1V207h-1ZM1707 179H1714V197H1707Z" fill="#ef5350" shape-rendering="crispEdges"/>
<rect x="1714" y="56" width="83" height="675" fill="#fff"/>
<rect x="9" y="695" width="1705" height="36" fill="#fff"/>
<path d="M8.5 55V731.5M8 55.5H1797M1796.5 55V731.5M8 731.5H1797M1714.5 55V731.5M8 695.5H1797M1714 674.5H1720M1714 633.5H1720M1714 592.5H1720M1714 551.5H1720M1714 510.5H1720M1714 469.5H1720M1714 428.5H1720M1714 387.5H1720M1714 346.5H1720M1714 305.5H1720M1714 264.5H1720M1714 223.5H1720M1714 181.5H1720M1714 140.5H1720M1714 99.5H1720M1714 58.5H1720M126.5 695V700M248.5 695V700M369.5 695V700M490.5 695V700M611.5 695V700M732.5 695V700M853.5 695V700M974.5 695V700M1095.5 695V700M1216.5 695V700M1338.5 695V700M1459.5 695V700M1580.5 695V700M1701.5 695V700" stroke="#50535e" stroke-width="1" fill="none" shape-rendering="crispEdges"/>
<defs><clipPath id="pax"><rect x="1715" y="56" width="81" height="639"/></clipPath></defs><g clip-path="url(#pax)">
<text x="1725.6" y="681.4" font-size="15.6" fill="#50535e" textLength="29.22" lengthAdjust="spacingAndGlyphs">0.00</text>
<text x="1725.6" y="640.3" font-size="15.6" fill="#50535e" textLength="45.24" lengthAdjust="spacingAndGlyphs">100.00</text>
<text x="1725.6" y="599.3" font-size="15.6" fill="#50535e" textLength="45.24" lengthAdjust="spacingAndGlyphs">200.00</text>
<text x="1725.6" y="558.2" font-size="15.6" fill="#50535e" textLength="45.24" lengthAdjust="spacingAndGlyphs">300.00</text>
<text x="1725.6" y="517.1" font-size="15.6" fill="#50535e" textLength="45.24" lengthAdjust="spacingAndGlyphs">400.00</text>
<text x="1725.6" y="476.0" font-size="15.6" fill="#50535e" textLength="45.24" lengthAdjust="spacingAndGlyphs">500.00</text>
<text x="1725.6" y="435.0" font-size="15.6" fill="#50535e" textLength="45.24" lengthAdjust="spacingAndGlyphs">600.00</text>
<text x="1725.6" y="393.9" font-size="15.6" fill="#50535e" textLength="45.24" lengthAdjust="spacingAndGlyphs">700.00</text>
<text x="1725.6" y="352.8" font-size="15.6" fill="#50535e" textLength="45.24" lengthAdjust="spacingAndGlyphs">800.00</text>
<text x="1725.6" y="311.8" font-size="15.6" fill="#50535e" textLength="45.24" lengthAdjust="spacingAndGlyphs">900.00</text>
<text x="1725.6" y="270.7" font-size="15.6" fill="#50535e" textLength="53.24" lengthAdjust="spacingAndGlyphs">1000.00</text>
<text x="1725.6" y="229.6" font-size="15.6" fill="#50535e" textLength="53.24" lengthAdjust="spacingAndGlyphs">1100.00</text>
<text x="1725.6" y="188.5" font-size="15.6" fill="#50535e" textLength="53.24" lengthAdjust="spacingAndGlyphs">1200.00</text>
<text x="1725.6" y="147.5" font-size="15.6" fill="#50535e" textLength="53.24" lengthAdjust="spacingAndGlyphs">1300.00</text>
<text x="1725.6" y="106.4" font-size="15.6" fill="#50535e" textLength="53.24" lengthAdjust="spacingAndGlyphs">1400.00</text>
<text x="1725.6" y="65.3" font-size="15.6" fill="#50535e" textLength="53.24" lengthAdjust="spacingAndGlyphs">1500.00</text>
</g>
<text x="109.3" y="720" font-size="15.5" font-weight="bold" fill="#50535e" textLength="34.2" lengthAdjust="spacingAndGlyphs">2014</text>
<text x="236.2" y="720" font-size="15.5" font-weight="normal" fill="#50535e" textLength="22.6" lengthAdjust="spacingAndGlyphs">Apr</text>
<text x="358.6" y="720" font-size="15.5" font-weight="normal" fill="#50535e" textLength="20.1" lengthAdjust="spacingAndGlyphs">Jul</text>
<text x="478.1" y="720" font-size="15.5" font-weight="normal" fill="#50535e" textLength="23.3" lengthAdjust="spacingAndGlyphs">Oct</text>
<text x="593.8" y="720" font-size="15.5" font-weight="bold" fill="#50535e" textLength="34.2" lengthAdjust="spacingAndGlyphs">2015</text>
<text x="720.7" y="720" font-size="15.5" font-weight="normal" fill="#50535e" textLength="22.6" lengthAdjust="spacingAndGlyphs">Apr</text>
<text x="843.0" y="720" font-size="15.5" font-weight="normal" fill="#50535e" textLength="20.1" lengthAdjust="spacingAndGlyphs">Jul</text>
<text x="962.6" y="720" font-size="15.5" font-weight="normal" fill="#50535e" textLength="23.3" lengthAdjust="spacingAndGlyphs">Oct</text>
<text x="1078.2" y="720" font-size="15.5" font-weight="bold" fill="#50535e" textLength="34.2" lengthAdjust="spacingAndGlyphs">2016</text>
<text x="1205.1" y="720" font-size="15.5" font-weight="normal" fill="#50535e" textLength="22.6" lengthAdjust="spacingAndGlyphs">Apr</text>
<text x="1327.5" y="720" font-size="15.5" font-weight="normal" fill="#50535e" textLength="20.1" lengthAdjust="spacingAndGlyphs">Jul</text>
<text x="1447.0" y="720" font-size="15.5" font-weight="normal" fill="#50535e" textLength="23.3" lengthAdjust="spacingAndGlyphs">Oct</text>
<text x="1562.7" y="720" font-size="15.5" font-weight="bold" fill="#50535e" textLength="34.2" lengthAdjust="spacingAndGlyphs">2017</text>
<text x="1689.6" y="720" font-size="15.5" font-weight="normal" fill="#50535e" textLength="22.6" lengthAdjust="spacingAndGlyphs">Apr</text>
<rect x="1714" y="187" width="76" height="21" fill="#ef5350"/>
<path d="M1714 197.5H1720" stroke="#fff" stroke-width="1" shape-rendering="crispEdges"/>
<text x="1726" y="202" font-size="14.4" font-weight="bold" fill="#fff">1162.31</text>
<rect x="1729" y="209" width="61" height="21" fill="#ef5350"/>
<text x="1734" y="224" font-size="14.4" font-weight="bold" fill="#fff">2d 17h</text>
<text x="19.4" y="82" font-size="15.3" font-weight="bold" fill="#4a4e59" textLength="268.4" lengthAdjust="spacingAndGlyphs">Bitcoin / U.S. Dollar, 1W, BITSTAMP</text>
<text x="19.4" y="103" font-size="15.3" fill="#4a4e59" textLength="24.2" lengthAdjust="spacingAndGlyphs">Vol</text>
<text x="19.4" y="124" font-size="15.3" fill="#4a4e59" textLength="112.3" lengthAdjust="spacingAndGlyphs">MA (200, close)</text>
<text x="19.4" y="145" font-size="15.3" fill="#4a4e59" textLength="103.6" lengthAdjust="spacingAndGlyphs">MA (50, close)</text>
<text x="8.2" y="22" font-size="15.7" font-weight="bold" fill="#131722" textLength="77.6" lengthAdjust="spacingAndGlyphs">samslav84</text>
<text x="90.4" y="22" font-size="15.7" fill="#131722" textLength="448.4" lengthAdjust="spacingAndGlyphs">published on TradingView.com, August 07, 2020 07:52:41 UTC</text>
<text x="8.2" y="44" font-size="15.7" font-weight="bold" fill="#131722" textLength="178.6" lengthAdjust="spacingAndGlyphs">BITSTAMP:BTCUSD, 1W</text>
<text x="193.6" y="44" font-size="15.7" fill="#131722" textLength="66.4" lengthAdjust="spacingAndGlyphs">11795.41</text>
<path d="M265 42.9L270.8 31.6L277 42.9Z" fill="#26a69a"/>
<text x="282.2" y="44" font-size="15.7" fill="#131722" textLength="117.8" lengthAdjust="spacingAndGlyphs">+25.33 (+0.22%)</text>
<text x="405.2" y="44" font-size="15.7" font-weight="bold" fill="#131722">O:</text>
<text x="423.0" y="44" font-size="15.7" fill="#26a69a" textLength="68.5" lengthAdjust="spacingAndGlyphs">11074.92</text>
<text x="495.4" y="44" font-size="15.7" font-weight="bold" fill="#131722">H:</text>
<text x="513.0" y="44" font-size="15.7" fill="#26a69a" textLength="68.5" lengthAdjust="spacingAndGlyphs">11920.00</text>
<text x="586.2" y="44" font-size="15.7" font-weight="bold" fill="#131722">L:</text>
<text x="600.3" y="44" font-size="15.7" fill="#26a69a" textLength="67.6" lengthAdjust="spacingAndGlyphs">10933.26</text>
<text x="672.7" y="44" font-size="15.7" font-weight="bold" fill="#131722">C:</text>
<text x="689.0" y="44" font-size="15.7" fill="#26a69a" textLength="68.4" lengthAdjust="spacingAndGlyphs">11795.41</text>
<path d="M10 763.8 L38 763.8 Q40.2 763.6 40.2 758.6 Q40 751 33 750.4 Q30.6 750.4 29 751.2 Q27.2 744.8 21.6 744.8 Q15.8 745 14.6 749.2 Q13.6 751.4 12.4 751.8 Q7.8 752.6 7.7 757.6 Q7.7 763.8 10 763.8 Z" fill="#3a8fd3"/>
<path d="M9.6 760.8 L20.2 751.3 L27.5 760 L35.6 752.2" stroke="#fff" stroke-width="1.5" fill="none" stroke-linejoin="round"/>
<circle cx="20.2" cy="751.4" r="1.7" fill="#fff"/><circle cx="27.5" cy="759.9" r="1.7" fill="#fff"/>
<text x="42.2" y="760" font-size="15.3" fill="#1e222d" textLength="88.6" lengthAdjust="spacingAndGlyphs">TradingView</text>
</svg></body></html>
